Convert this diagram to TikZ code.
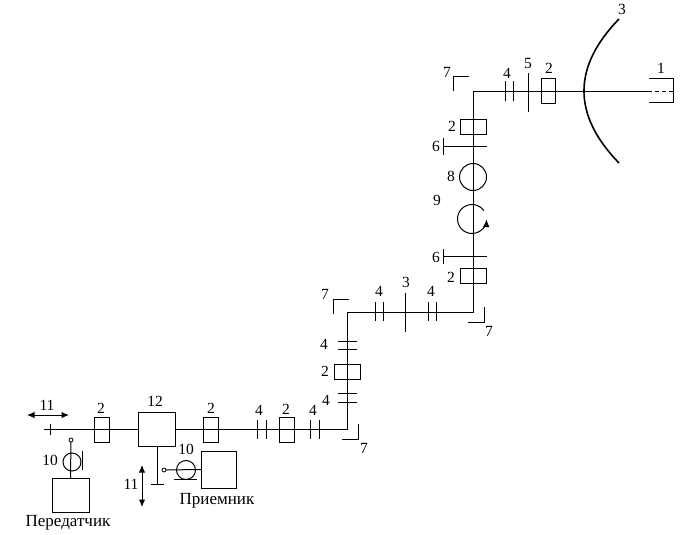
\documentclass[tikz,border=0pt]{standalone}
\usepackage{fontspec}
\setmainfont{Liberation Serif}
\usetikzlibrary{arrows.meta}
\tikzset{
  line/.style = {line width = 1pt},
  lbl/.style = {inner sep = 0pt, font = \fontsize{15.5}{17}\selectfont},
  caption/.style = {inner sep = 0pt, font = \fontsize{17}{19}\selectfont},
  vtick/.style = {fill = black, inner sep = 0pt, outer sep = 0pt, minimum width = 0.5pt, minimum height = 19pt},
  htick/.style = {fill = black, inner sep = 0pt, outer sep = 0pt, minimum height = 0.5pt, minimum width = 19pt},
  hbox/.style = {draw, line width = 1pt, inner sep = 0pt, outer sep = 0pt, minimum width = 26pt, minimum height = 15pt},
  vbox/.style = {draw, line width = 1pt, inner sep = 0pt, outer sep = 0pt, minimum width = 14.5pt, minimum height = 25pt},
  bigbox/.style = {draw, line width = 1pt, inner sep = 0pt, outer sep = 0pt},
  ring/.style = {circle, draw, line width = 1pt, inner sep = 0pt, outer sep = 0pt},
  pin/.style = {circle, draw, line width = 0.8pt, inner sep = 0pt, outer sep = 0pt, minimum size = 4pt}
}
\begin{document}
\begin{tikzpicture}[x = 1pt, y = -1pt, >={Latex[length = 7.5pt, width = 6.5pt]}]
    \useasboundingbox (0,0) rectangle (680,535);
    % bends and ends of the feed line
    \coordinate (start) at (44,429);
    \coordinate (B1) at (347,429);
    \coordinate (B2) at (347,312);
    \coordinate (B3) at (473,312);
    \coordinate (B4) at (473,91);
    \coordinate (feedA) at (648,91);
    \coordinate (feedB) at (673,91);
    % boxes and rings
    \node[bigbox, minimum width = 37pt, minimum height = 34pt] (sw) at (156.5,429) {};
    \node[vbox] (bxA) at (102,429.5) {};
    \node[vbox] (bxB) at (211,429.5) {};
    \node[vbox] (bxC) at (287,429.5) {};
    \node[hbox] (bxD) at (347,372) {};
    \node[hbox] (bxE) at (473,275.5) {};
    \node[hbox] (bxF) at (473,126.5) {};
    \node[vbox] (bxG) at (548.5,91) {};
    \node[ring, minimum size = 27pt] (ring8) at (473,177) {};
    \coordinate (ring9) at (472,219);
    \node[bigbox, minimum width = 37pt, minimum height = 34pt] (tx) at (70.5,495) {};
    \node[bigbox, minimum width = 35pt, minimum height = 37pt] (rx) at (218.5,469.5) {};
    \node[ring, minimum size = 18pt] (ringT) at (72,462) {};
    \node[ring, minimum size = 19pt] (ringR) at (186,470) {};
    \node[pin] (pinT) at (71,440) {};
    \node[pin] (pinR) at (164,470) {};
    % the line itself
    \draw[line] (start) -- (sw.west);
    \draw[line] (sw.east) -- (B1) -- (B2) -- (B3) -- (B4) -- (feedA);
    \draw[line, dash pattern = on 4pt off 3pt] (feedA) -- (feedB);
    \draw[line] (pinT) -- (tx.north);
    \draw[line] (pinR) -- (rx.west);
    \coordinate (stub) at (157,484);
    \draw[line] (sw.south -| stub) -- (stub);
    % ticks
    \node[vtick, minimum height = 11pt] (t0) at (50,429) {};
    \node[htick, minimum width = 13pt] (t1) at (157,484) {};
    \node[vtick] (t2) at (257,429.5) {};
    \node[vtick] (t3) at (266,429.5) {};
    \node[vtick] (t4) at (310,429.5) {};
    \node[vtick] (t5) at (319,429.5) {};
    \node[htick] (t6) at (347.5,393) {};
    \node[htick] (t7) at (347.5,402) {};
    \node[htick] (t8) at (347.5,341) {};
    \node[htick] (t9) at (347.5,349) {};
    \node[vtick] (t10) at (375,311.5) {};
    \node[vtick] (t11) at (383,311.5) {};
    \node[vtick, minimum height = 39pt] (t12) at (405,312.5) {};
    \node[vtick] (t13) at (428,311.5) {};
    \node[vtick] (t14) at (436,311.5) {};
    \node[htick, minimum width = 44pt] (t15) at (465,256) {};
    \node[vtick, minimum height = 15pt] (t16) at (443,256.5) {};
    \node[htick, minimum width = 44pt] (t17) at (465,146) {};
    \node[vtick, minimum height = 17pt] (t18) at (443,146.5) {};
    \node[vtick] (t19) at (505,91) {};
    \node[vtick] (t20) at (513,91) {};
    \node[vtick, minimum height = 39pt] (t21) at (528,92.5) {};
    \node[vtick, minimum height = 19pt] (t22) at (82,460.5) {};
    \node[htick, minimum width = 23pt] (t23) at (185.5,479) {};
    % corners
    \coordinate (c1a) at (342,439);
    \coordinate (c1b) at (358,439);
    \coordinate (c1c) at (358,424);
    \draw[line] (c1a) -- (c1b) -- (c1c);
    \coordinate (c2a) at (333,314);
    \coordinate (c2b) at (333,299);
    \coordinate (c2c) at (349,299);
    \draw[line] (c2a) -- (c2b) -- (c2c);
    \coordinate (c3a) at (468,322);
    \coordinate (c3b) at (484,322);
    \coordinate (c3c) at (484,307);
    \draw[line] (c3a) -- (c3b) -- (c3c);
    \coordinate (c4a) at (453,91);
    \coordinate (c4b) at (453,77);
    \coordinate (c4c) at (469,77);
    \draw[line] (c4a) -- (c4b) -- (c4c);
    % horn
    \coordinate (h1) at (649,79);
    \coordinate (h2) at (673,79);
    \coordinate (h3) at (673,102);
    \coordinate (h4) at (649,102);
    \draw[line] (h1) -- (h2) -- (h3) -- (h4);
    % mirror
    \coordinate (m1) at (619,19);
    \coordinate (m2) at (572.3,67);
    \coordinate (m3) at (572.3,115);
    \coordinate (m4) at (619,163);
    \draw[line width = 1.6pt] (m1) .. controls (m2) and (m3) .. (m4);
    % arrows
    \coordinate (a1) at (27,415);
    \coordinate (a2) at (69,415);
    \draw[line, <->] (a1) -- (a2);
    \coordinate (a3) at (142,465);
    \coordinate (a4) at (142,507);
    \draw[line, <->] (a3) -- (a4);
    \draw[line, ->] (ring9) ++(-35:14.5) arc (-35:-358:14.5);
    % labels
    \node[lbl] (L1) at (47,405) {11};
    \node[lbl] (L2) at (101,408) {2};
    \node[lbl] (L3) at (155,401) {12};
    \node[lbl] (L4) at (211,408) {2};
    \node[lbl] (L5) at (259,410) {4};
    \node[lbl] (L6) at (286,409) {2};
    \node[lbl] (L7) at (313,410) {4};
    \node[lbl] (L8) at (364,448) {7};
    \node[lbl] (L9) at (326,400) {4};
    \node[lbl] (L10) at (325,371) {2};
    \node[lbl] (L11) at (324,344) {4};
    \node[lbl] (L12) at (325,294) {7};
    \node[lbl] (L13) at (379,291) {4};
    \node[lbl] (L14) at (406,282) {3};
    \node[lbl] (L15) at (431,291) {4};
    \node[lbl] (L16) at (489,331) {7};
    \node[lbl] (L17) at (451,277) {2};
    \node[lbl] (L18) at (436,257) {6};
    \node[lbl] (L19) at (437,200) {9};
    \node[lbl] (L20) at (451,176) {8};
    \node[lbl] (L21) at (436,146) {6};
    \node[lbl] (L22) at (452,126) {2};
    \node[lbl] (L23) at (447,72) {7};
    \node[lbl] (L24) at (507,73) {4};
    \node[lbl] (L25) at (528,64) {5};
    \node[lbl] (L26) at (549,68) {2};
    \node[lbl] (L27) at (622,9) {3};
    \node[lbl] (L28) at (661,68) {1};
    \node[lbl] (L29) at (50,460) {10};
    \node[lbl] (L30) at (131,484) {11};
    \node[lbl] (L31) at (186,449) {10};
    \node[caption] (L32) at (217,501) {Приемник};
    \node[caption] (L33) at (68,523) {Передатчик};
\end{tikzpicture}
\end{document}
